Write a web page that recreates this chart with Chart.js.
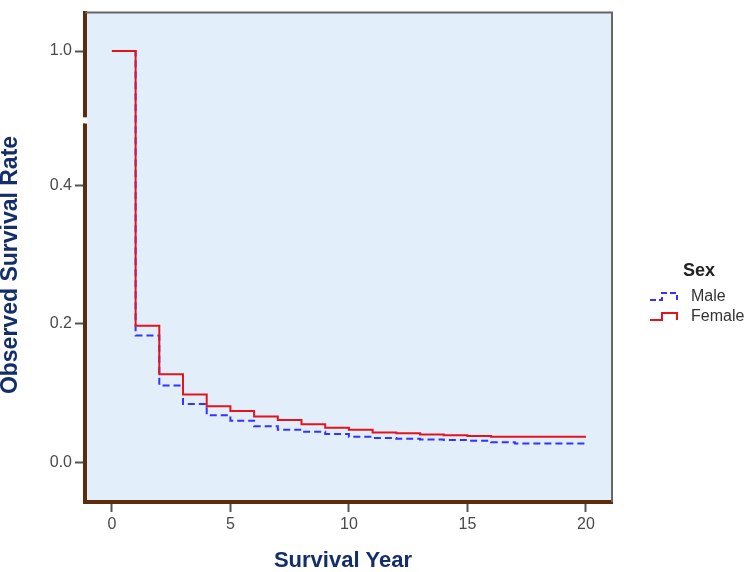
<!DOCTYPE html>
<html>
<head>
<meta charset="utf-8">
<script src="https://cdn.jsdelivr.net/npm/chart.js@4/dist/chart.umd.min.js"></script>
<style>
  html, body { margin: 0; padding: 0; background: #fff; }
  #wrap { width: 750px; height: 572px; }
</style>
</head>
<body>
<div id="wrap"><canvas id="survival_chart" width="750" height="572"></canvas></div>
<script>
// survival year (step starts) and observed survival rate per sex
const years = [0, 1, 2, 3, 4, 5, 6, 7, 8, 9, 10, 11, 12, 13, 14, 15, 16, 17, 18, 19, 20];
const male_rate = [1.0, 0.183, 0.111, 0.084, 0.068, 0.060, 0.052, 0.047, 0.044, 0.041, 0.037,
	0.035, 0.034, 0.033, 0.032, 0.031, 0.029, 0.027, 0.027, 0.027, 0.027];
const female_rate = [1.0, 0.197, 0.127, 0.098, 0.081, 0.074, 0.066, 0.061, 0.055, 0.050, 0.047,
	0.043, 0.042, 0.040, 0.039, 0.038, 0.037, 0.037, 0.037, 0.037, 0.037];
const series_labels = ['Male', 'Female'];
const x_ticks = [0, 5, 10, 15, 20];
const y_ticks = [0.0, 0.2, 0.4, 1.0];
const y_tick_labels = ['0.0', '0.2', '0.4', '1.0'];

// broken y axis: above 0.4 the scale is compressed
const break_at = 0.4;
const break_squeeze = 0.3225;
const break_mark = 0.69;
function toAxis(v) {
	return v <= break_at ? v : break_at + (v - break_at) * break_squeeze;
}

const font_family = "'Liberation Sans', Arial, sans-serif";
const title_color = '#132e6b';
const male_color = '#3333ff';
const female_color = '#e3141e';
const axis_brown = '#5a2d0c';

const points = (rates) => years.map((y, i) => ({ x: y, y: toAxis(rates[i]) }));

const frame_plugin = {
	id: 'frame_plugin',
	beforeDraw(chart) {
		const a = chart.chartArea;
		const ctx = chart.ctx;
		ctx.save();
		ctx.fillStyle = '#e2eefa';
		ctx.fillRect(a.left, a.top, a.right - a.left, a.bottom - a.top);
		ctx.restore();
	},
	afterDraw(chart) {
		const a = chart.chartArea;
		const ctx = chart.ctx;
		ctx.save();
		// top and right frame
		ctx.strokeStyle = '#666';
		ctx.lineWidth = 2;
		ctx.beginPath();
		ctx.moveTo(a.left, a.top);
		ctx.lineTo(a.right, a.top);
		ctx.lineTo(a.right, a.bottom);
		ctx.stroke();

		// axis break mark
		const yb = chart.scales.y.getPixelForValue(toAxis(break_mark));
		ctx.fillStyle = '#fff';
		ctx.fillRect(a.left - 5, yb - 3, 7, 6);
		ctx.strokeStyle = '#fff';
		ctx.lineWidth = 3;
		ctx.beginPath();
		ctx.moveTo(a.left - 10, yb - 5);
		ctx.lineTo(a.left + 2, yb + 2);
		ctx.stroke();

		// axis titles
		ctx.fillStyle = title_color;
		ctx.font = 'bold 23px ' + font_family;
		ctx.textAlign = 'center';
		ctx.textBaseline = 'middle';
		ctx.save();
		ctx.translate(11, 265);
		ctx.rotate(-Math.PI / 2);
		ctx.fillText('Observed Survival Rate', 0, 0);
		ctx.restore();
		ctx.font = 'bold 22px ' + font_family;
		ctx.fillText('Survival Year', 343, 561);

		// legend
		ctx.fillStyle = '#222';
		ctx.font = 'bold 18px ' + font_family;
		ctx.fillText('Sex', 699, 271);
		ctx.font = '16px ' + font_family;
		ctx.textAlign = 'left';
		const entries = [
			{ label: series_labels[0], color: male_color, dash: [6, 3], y: 297 },
			{ label: series_labels[1], color: female_color, dash: [], y: 317 }
		];
		entries.forEach(e => {
			ctx.strokeStyle = e.color;
			ctx.lineWidth = 2;
			ctx.setLineDash(e.dash);
			ctx.beginPath();
			ctx.moveTo(650, e.y + 3);
			ctx.lineTo(662, e.y + 3);
			ctx.lineTo(662, e.y - 4);
			ctx.lineTo(677, e.y - 4);
			ctx.lineTo(677, e.y + 3);
			ctx.stroke();
			ctx.setLineDash([]);
			ctx.fillStyle = '#333';
			ctx.fillText(e.label, 691, e.y);
		});
		ctx.restore();
	}
};

const survival_chart = new Chart(
		document.getElementById('survival_chart').getContext('2d'),
		{
			type: 'line',
			data: {
				datasets: [{
						label: series_labels[0],
						data: points(male_rate),
						borderColor: male_color,
						borderWidth: 2,
						borderDash: [7, 4],
						stepped: 'before',
						pointRadius: 0,
						fill: false,
						order: 1
					}, {
						label: series_labels[1],
						data: points(female_rate),
						borderColor: female_color,
						borderWidth: 2,
						stepped: 'before',
						pointRadius: 0,
						fill: false,
						order: 0
					}]
			},
			options: {
				responsive: false,
				animation: false,
				layout: {
					padding: { top: 9, right: 138, left: 0, bottom: 0 }
				},
				scales: {
					x: {
						type: 'linear',
						min: -1.135,
						max: 21.1,
						afterFit: (scale) => { scale.height = 70; },
						afterBuildTicks: (scale) => {
							scale.ticks = x_ticks.map(v => ({ value: v }));
						},
						ticks: {
							color: '#4a4a4a',
							padding: 3,
							maxRotation: 0,
							font: { family: font_family, size: 16 }
						},
						grid: {
							drawOnChartArea: false,
							tickLength: 10,
							tickWidth: 2,
							tickColor: '#555'
						},
						border: { color: axis_brown, width: 4 }
					},
					y: {
						type: 'linear',
						min: -0.0573,
						max: 0.649,
						afterFit: (scale) => { scale.width = 85; },
						afterBuildTicks: (scale) => {
							scale.ticks = y_ticks.map(v => ({ value: toAxis(v) }));
						},
						ticks: {
							color: '#4a4a4a',
							padding: 3,
							font: { family: font_family, size: 16 },
							callback: (value, index) => y_tick_labels[index]
						},
						grid: {
							drawOnChartArea: false,
							tickLength: 10,
							tickWidth: 2,
							tickColor: '#555'
						},
						border: { color: axis_brown, width: 4 }
					}
				},
				plugins: {
					legend: { display: false },
					tooltip: { enabled: false }
				}
			},
			plugins: [frame_plugin],
		}
);
</script>
</body>
</html>
